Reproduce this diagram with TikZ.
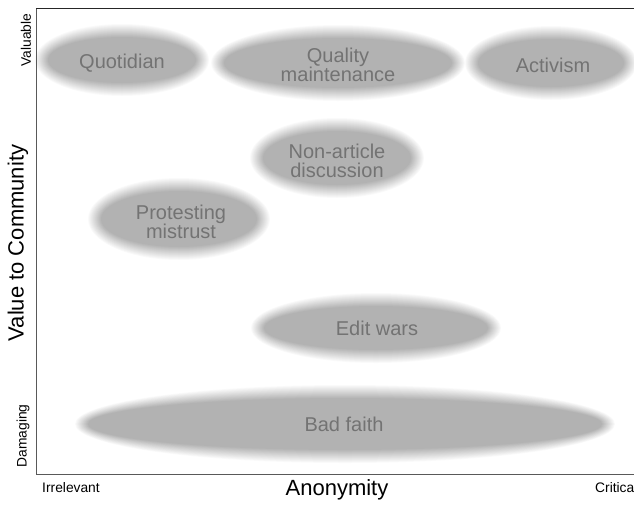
\documentclass[tikz,border=0pt]{standalone}
\usepackage{fontspec}
\setmainfont{Liberation Sans}
\usetikzlibrary{positioning}
\tikzset{
  axisline/.style={line width=0.9pt,black!65},
  frameline/.style={line width=0.8pt,black!85},
  blobtext/.style={font=\fontsize{20}{19}\selectfont,text=black!55,align=center,inner sep=0pt},
  ticklabel/.style={font=\fontsize{13.8}{13.8}\selectfont,inner sep=0pt},
  axislabel/.style={font=\fontsize{22}{22}\selectfont,inner sep=0pt}
}

\begin{document}
\begin{tikzpicture}[x=1pt,y=-1pt]
  \useasboundingbox (0,0) rectangle (634,504);
  % soft grey clouds, ring by ring from the faint rim inwards
  \foreach \k in {0,...,13}{
    \pgfmathtruncatemacro{\d}{7-\k}
    \pgfmathsetmacro{\g}{30*(\k+1)/14}
    \foreach \cx/\cy/\rx/\ry in {122/60/80/29, 338/63/120/31, 551/63/79/30,
                                 337/158/80/33, 179/219/84/34,
                                 376/328/118/28, 345/424/263/32}{
      \fill[black!\g] (\cx,\cy) ellipse [x radius=\rx+\d, y radius=\ry+\d];
    }
  }
  % cloud labels
  \node[blobtext] (quotidian) at (122,63) {Quotidian};
  \node[blobtext] (quality) at (338,65) {Quality\\maintenance};
  \node[blobtext] (activism) at (553,65) {Activism};
  \node[blobtext] (nonarticle) at (337,161) {Non-article\\discussion};
  \node[blobtext] (protesting) at (181,222) {Protesting\\mistrust};
  \node[blobtext] (editwars) at (377,328) {Edit wars};
  \node[blobtext] (badfaith) at (344,424) {Bad faith};
  % axes
  \coordinate (ytop) at (36,8);
  \coordinate (origin) at (36,474);
  \coordinate (xend) at (634,474);
  \coordinate (topend) at (634,8);
  \draw[axisline] (ytop) -- (origin) -- (xend);
  \draw[frameline] (ytop) -- (topend);
  % axis labels
  \node[ticklabel,rotate=90] (valuable) at (26,40) {Valuable};
  \node[ticklabel,rotate=90] (damaging) at (23,436) {Damaging};
  \node[axislabel,rotate=90] (community) at (18,243) {Value to Community};
  \node[ticklabel] (irrelevant) at (71,488) {Irrelevant};
  \node[axislabel] (anonymity) at (337,490) {Anonymity};
  \node[ticklabel,anchor=west] (critical) at (595,488) {Critical};
\end{tikzpicture}
\end{document}
